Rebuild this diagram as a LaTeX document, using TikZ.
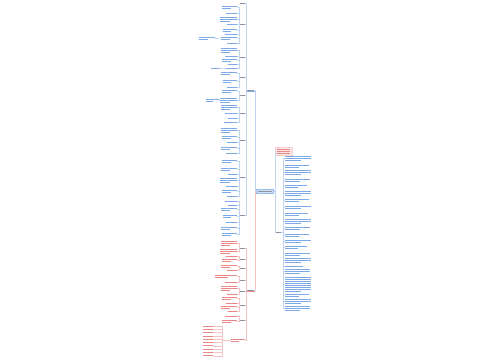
\documentclass[tikz,border=0pt]{standalone}
\usepackage{tikz}
\definecolor{mapblue}{RGB}{125,170,230}
\definecolor{mapred}{RGB}{235,135,135}
\definecolor{mapdark}{RGB}{140,148,160}
% block of tiny text lines: name, at, anchor, lines, width, colour
\newcommand\blk[6]{%
  \node[inner sep=0,minimum width=#5pt,minimum height={2*#4 pt},anchor=#3] (#1) at #2 {};
  \foreach \k in {1,...,#4}{
    \pgfmathsetmacro\len{(\k==#4 && #4>1) ? 0.6*#5 : #5}
    \draw[#6,txt] ([yshift={-(2*\k-1)*1pt}]#1.north west) -- ++(\len,0);
  }}

\begin{document}
\begin{tikzpicture}[x=1pt,y=-1pt,
  txt/.style={line width=.4pt},
  fork/.style={to path={(\tikztostart.west) -- ++(-#1,0) |- (\tikztotarget.east)}},
  forkr/.style={to path={(\tikztostart.east) -- ++(#1,0) |- (\tikztotarget.west)}},
  lb/.style={draw=mapblue!50,line width=.3pt},
  lr/.style={draw=mapred!50,line width=.3pt}]
\useasboundingbox (0,0) rectangle (500,360);

\node[fill=mapblue!35,draw=mapblue!80,line width=.3pt,minimum width=17pt,minimum height=4pt,inner sep=0] (root) at (265,191) {};
\draw[mapdark,txt] ([xshift=2pt]root.west) -- ([xshift=-2pt]root.east);
\blk{b1}{(251,90)}{center}{1}{7}{mapdark}
\blk{b2}{(251,290)}{center}{1}{7}{mapdark}
\draw[mapblue,line width=.4pt] (b1.south west) -- (b1.south east);
\draw[mapred,line width=.4pt] (b2.south west) -- (b2.south east);
\node[fill=mapred!22,draw=mapred!40,line width=.3pt,minimum width=17pt,minimum height=8pt,inner sep=0] (note) at (284,151) {};
\foreach \k in {1,2,3}
  \draw[mapred,txt] ([xshift=1.5pt,yshift={-(2*\k)*1pt}]note.north west) -- ++(13,0);
\blk{r2}{(279,232)}{center}{1}{5}{mapdark}

\path[lb]
(root) edge[fork=1.5pt] (b1)
       edge[forkr=1pt] (note)
       edge[forkr=1pt] (r2);
\path[lr] (root) edge[fork=1.5pt] (b2);

% upper left branch
\foreach \y/\nm in {3/m1,24/m2,57/m3,77/m4,95/m5,113/m6,140/m7,177/m8,215/m9}{
  \blk{\nm}{(245,\y)}{east}{1}{5}{mapdark}
  \path[lb] (b1) edge[fork=1pt] (\nm);
}
\foreach \y/\n/\w/\p in {7/2/15/m2,13/1/11/m2,19/3/17/m2,24/1/10/m2,30/2/14/m2,34/1/12/m2,38/2/16/m2,43/1/10/m2,
  50/3/16/m3,56/1/12/m3,60/2/15/m3,64/1/9/m3,68/1/11/m3,73/2/16/m4,81/2/14/m4,87/1/10/m4,
  91/2/15/m5,100/3/17/m5,107/3/16/m6,113/1/12/m6,118/1/9/m6,122/1/13/m6,
  130/3/16/m7,137/2/15/m7,142/1/10/m7,148/2/16/m7,153/1/11/m7,
  161/2/15/m8,169/2/16/m8,174/1/9/m8,180/3/17/m8,186/1/11/m8,191/2/15/m8,196/1/10/m8,
  201/1/12/m9,205/1/9/m9,209/2/16/m9,216/2/14/m9,222/1/11/m9,228/2/16/m9,234/2/15/m9}{
  \blk{t\y}{(237,\y)}{east}{\n}{\w}{mapblue}
  \path[lb] (\p) edge[fork=0.8pt] (t\y);
}
\blk{s1}{(215,38)}{east}{2}{16}{mapblue}
\blk{s2}{(219,68)}{east}{1}{8}{mapblue}
\blk{s3}{(219,100)}{east}{2}{13}{mapblue}
\path[lb] (t38) edge[fork=1pt] (s1)
          (t68) edge[fork=1pt] (s2)
          (t100) edge[fork=1pt] (s3);

% lower left branch
\foreach \y/\nm in {248/n0,259/n1,268/n2,280/n3,291/n4,305/n5,320/n6}{
  \blk{\nm}{(245,\y)}{east}{1}{5}{mapdark}
  \path[lr] (b2) edge[fork=1pt] (\nm);
}
\foreach \y/\n/\w/\p in {243/3/16/n0,251/3/17/n0,256/1/11/n1,260/2/15/n1,266/2/16/n2,270/1/10/n2,
  276/2/22/n3,282/1/12/n3,288/3/16/n4,294/1/10/n4,298/2/15/n5,303/1/11/n5,307/2/16/n5,311/1/9/n5,
  316/1/12/n6,321/2/15/n6}{
  \blk{u\y}{(237,\y)}{east}{\n}{\w}{mapred}
  \path[lr] (\p) edge[fork=0.8pt] (u\y);
}
\blk{q}{(245,340)}{east}{2}{14}{mapred}
\path[lr] (b2) edge[fork=1pt] (q);
\foreach \i in {0,...,9}{
  \blk{v\i}{(213,{326+3.3*\i})}{east}{1}{10}{mapred}
  \path[lr] (q) edge[fork=8pt] (v\i);
}

% right branch
\foreach \y/\n/\w in {158/3/26,166/2/24,172/3/26,180/2/25,186/2/22,193/3/26,200/2/24,207/2/26,214/2/23,221/3/26,
  228/2/25,235/2/24,241/2/26,247/2/22,254/2/25,260/3/26,266/1/18,271/3/25,284/8/26,295/2/24,301/3/26,308/3/25}{
  \blk{g\y}{(285,\y)}{west}{\n}{\w}{mapblue}
  \path[lb] (r2) edge[forkr=1.5pt] (g\y);
}
\end{tikzpicture}
\end{document}
